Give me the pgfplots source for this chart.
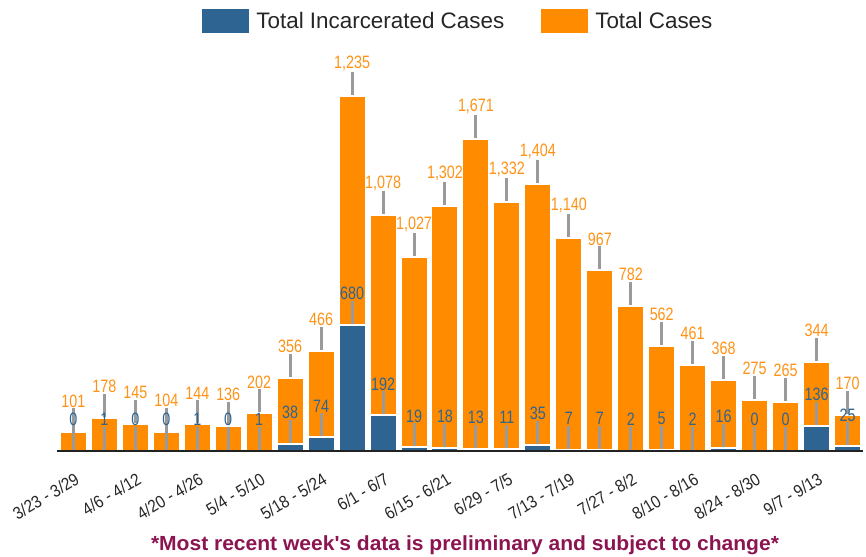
\documentclass[border=0pt]{standalone}
\usepackage{pgfplots}
\usepackage{pgfplotstable}
\pgfplotsset{compat=1.18}
\usepackage{fontspec}
\setmainfont{Liberation Sans}
\newfontfamily\valfont{Liberation Sans}[FakeStretch=0.8]
\newfontfamily\tickfont{Liberation Sans}[FakeStretch=0.88]
\newfontfamily\footfont{Liberation Sans}[FakeStretch=1.03]
\definecolor{cblue}{RGB}{46,100,145}
\definecolor{corange}{RGB}{255,140,0}
\definecolor{labelorange}{RGB}{255,146,20}
\definecolor{leadgray}{RGB}{154,154,154}
\definecolor{axisdark}{RGB}{34,34,34}
\definecolor{ticktext}{RGB}{40,40,40}
\definecolor{maroon}{RGB}{140,20,80}
\pgfplotstableread{
x inc tot
0 0 101
1 1 178
2 0 145
3 0 104
4 1 144
5 0 136
6 1 202
7 38 356
8 74 466
9 680 1235
10 192 1078
11 19 1027
12 18 1302
13 13 1671
14 11 1332
15 35 1404
16 7 1140
17 7 967
18 2 782
19 5 562
20 2 461
21 16 368
22 0 275
23 0 265
24 136 344
25 25 170
}\data
\begin{document}
\begin{tikzpicture}
\begin{axis}[
  at={(0,0)}, anchor=south west,
  scale only axis, width=806bp, height=391bp,
  xmin=-0.53, xmax=25.5, ymin=0, ymax=2108,
  axis x line*=bottom, axis y line=none,
  x axis line style={color=axisdark, line width=2.5bp, -},
  xtick={0,2,...,24},
  xticklabels={3/23 - 3/29, 4/6 - 4/12, 4/20 - 4/26, 5/4 - 5/10, 5/18 - 5/24, 6/1 - 6/7, 6/15 - 6/21, 6/29 - 7/5, 7/13 - 7/19, 7/27 - 8/2, 8/10 - 8/16, 8/24 - 8/30, 9/7 - 9/13},
  xticklabel style={rotate=31, anchor=north east, inner sep=0pt, yshift=-18bp, xshift=-10bp, font=\tickfont\fontsize{17.5}{19}\selectfont, text=ticktext},
  major tick length=0pt,
  ytick=\empty,
  clip=false, axis on top,
  /pgf/number format/assume math mode=true,
  reverse legend,
  legend columns=2,
  legend style={draw=none, fill=none, at={(0.498,1)}, anchor=center, yshift=39bp,
    font=\fontsize{22.5}{26}\selectfont, text=black!85,
    /tikz/every odd column/.append style={column sep=5bp},
    /tikz/every even column/.append style={column sep=35bp}},
]
\addplot[ybar, bar width=27bp, bar shift=0pt, fill=corange, draw=white, line width=2bp,
  point meta=explicit,
  nodes near coords={\pgfmathprintnumber{\pgfplotspointmeta}\\{\color{leadgray}\rule{3bp}{23bp}}},
  nodes near coords style={anchor=south, inner sep=0pt, align=center, text=labelorange, font=\valfont\fontsize{18}{20}\selectfont},
  legend image code/.code={\fill[corange] (0bp,-11bp) rectangle (45bp,11bp);}]
  table[x=x, y expr=\thisrow{inc}+\thisrow{tot}, meta=tot] {\data};
\addlegendentry{Total Cases}
\addplot[ybar, bar width=27bp, bar shift=0pt, fill=cblue, draw=white, line width=2bp,
  point meta=explicit,
  nodes near coords={\pgfmathprintnumber{\pgfplotspointmeta}\\{\color{leadgray}\rule{3bp}{23bp}}},
  nodes near coords style={anchor=south, inner sep=0pt, align=center, text=cblue, font=\valfont\fontsize{18}{20}\selectfont},
  legend image code/.code={\fill[cblue] (0bp,-11bp) rectangle (45bp,11bp);}]
  table[x=x, y=inc, meta=inc] {\data};
\addlegendentry{Total Incarcerated Cases}
\end{axis}
\node[font=\footfont\bfseries\fontsize{20.5}{24}\selectfont, text=maroon] at (408bp,-94bp) {*Most recent week\textquotesingle s data is preliminary and subject to change*};
\pgfresetboundingbox
\path[use as bounding box] (-57bp,-106bp) rectangle (809bp,451bp);
\end{tikzpicture}
\end{document}
